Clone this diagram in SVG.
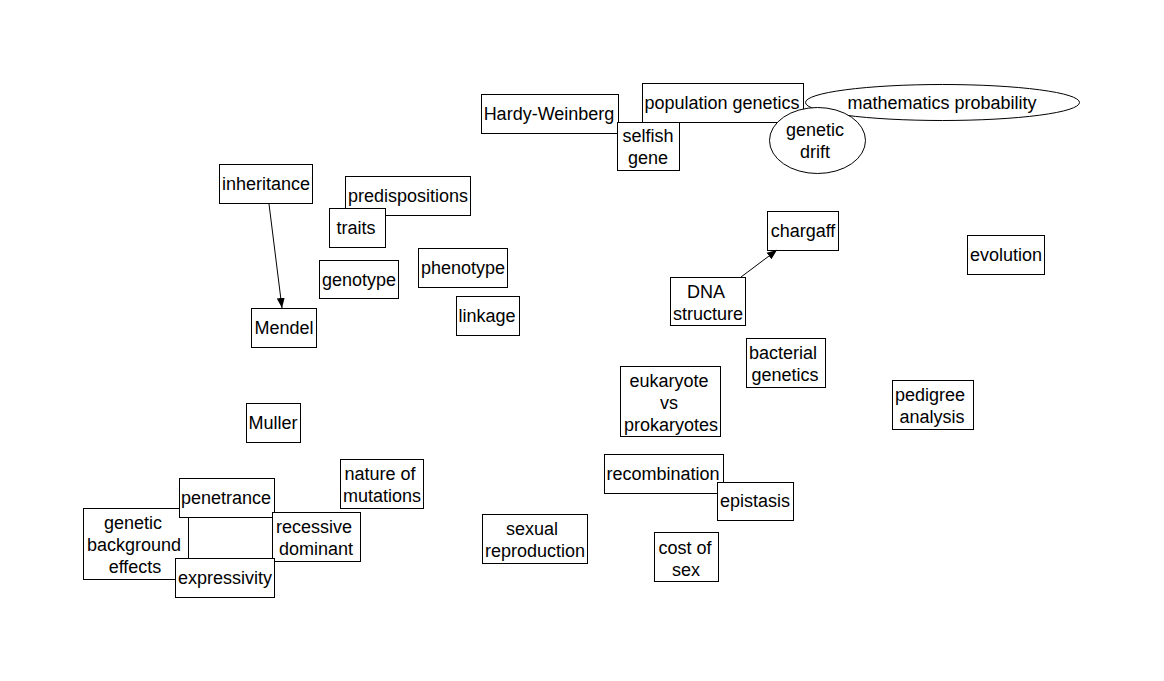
<svg xmlns="http://www.w3.org/2000/svg" width="1164" height="681" viewBox="0 0 1164 681">
  <style>
    .n rect, .n ellipse { fill: #fff; stroke: #000; stroke-width: 1; }
    .n text { font-family: "Liberation Sans", Arial, sans-serif; font-size: 18px; fill: #000; text-anchor: middle; dominant-baseline: central; }
    .e { stroke: #000; stroke-width: 1; fill: none; marker-end: url(#arrow); }
  </style>
  <defs>
    <marker id="arrow" viewBox="0 0 10 10" refX="10" refY="5" markerWidth="10" markerHeight="10" markerUnits="userSpaceOnUse" orient="auto">
      <path d="M0,1 L10,5 L0,9 Z" fill="#000"/>
    </marker>
  </defs>
  <rect width="1164" height="681" fill="#fff"/>

  <g id="hardy-weinberg" class="n"><rect x="481.5" y="94.5" width="137" height="39"/><text x="549" y="114">Hardy-Weinberg</text></g>
  <g id="population-genetics" class="n"><rect x="642.5" y="83.5" width="161" height="39"/><text x="722" y="103">population genetics</text></g>
  <g id="mathematics-probability" class="n"><ellipse cx="942.5" cy="102.5" rx="137" ry="18"/><text x="942" y="103">mathematics probability</text></g>
  <g id="selfish-gene" class="n"><rect x="617.5" y="122.5" width="62" height="48"/><text x="648" y="136">selfish</text><text x="648" y="158">gene</text></g>
  <g id="genetic-drift" class="n"><ellipse cx="817.5" cy="140.5" rx="48" ry="33"/><text x="815" y="130">genetic</text><text x="815" y="152">drift</text></g>

  <g id="inheritance" class="n"><rect x="219.5" y="164.5" width="93" height="39"/><text x="266" y="184">inheritance</text></g>
  <g id="predispositions" class="n"><rect x="345.5" y="176.5" width="125" height="39"/><text x="408" y="196">predispositions</text></g>
  <g id="traits" class="n"><rect x="329.5" y="208.5" width="56" height="39"/><text x="356" y="228">traits</text></g>
  <g id="genotype" class="n"><rect x="319.5" y="260.5" width="79" height="38"/><text x="359" y="280">genotype</text></g>
  <g id="phenotype" class="n"><rect x="418.5" y="248.5" width="89" height="39"/><text x="463" y="268">phenotype</text></g>
  <g id="linkage" class="n"><rect x="456.5" y="296.5" width="63" height="39"/><text x="487" y="316">linkage</text></g>
  <g id="mendel" class="n"><rect x="251.5" y="308.5" width="65" height="39"/><text x="284" y="328">Mendel</text></g>

  <g id="chargaff" class="n"><rect x="767.5" y="211.5" width="71" height="39"/><text x="803" y="231">chargaff</text></g>
  <g id="dna-structure" class="n"><rect x="670.5" y="277.5" width="75" height="48"/><text x="706" y="292">DNA</text><text x="708" y="314">structure</text></g>
  <g id="evolution" class="n"><rect x="967.5" y="235.5" width="77" height="39"/><text x="1006" y="255">evolution</text></g>
  <g id="bacterial-genetics" class="n"><rect x="746.5" y="338.5" width="79" height="49"/><text x="783" y="353">bacterial</text><text x="785" y="375">genetics</text></g>
  <g id="eukaryote-vs-prokaryotes" class="n"><rect x="620.5" y="366.5" width="100" height="70"/><text x="669" y="381">eukaryote</text><text x="669" y="403">vs</text><text x="671" y="425">prokaryotes</text></g>
  <g id="pedigree-analysis" class="n"><rect x="892.5" y="380.5" width="81" height="49"/><text x="930" y="395">pedigree</text><text x="932" y="417">analysis</text></g>
  <g id="recombination" class="n"><rect x="604.5" y="454.5" width="119" height="39"/><text x="663" y="474">recombination</text></g>
  <g id="epistasis" class="n"><rect x="717.5" y="482.5" width="76" height="38"/><text x="755" y="501">epistasis</text></g>
  <g id="sexual-reproduction" class="n"><rect x="482.5" y="514.5" width="105" height="49"/><text x="532" y="529">sexual</text><text x="535" y="551">reproduction</text></g>
  <g id="cost-of-sex" class="n"><rect x="654.5" y="532.5" width="64" height="49"/><text x="685" y="548">cost of</text><text x="686" y="570">sex</text></g>

  <g id="muller" class="n"><rect x="246.5" y="403.5" width="54" height="39"/><text x="273" y="423">Muller</text></g>
  <g id="nature-of-mutations" class="n"><rect x="340.5" y="459.5" width="83" height="49"/><text x="380" y="474">nature of</text><text x="382" y="496">mutations</text></g>
  <g id="genetic-background-effects" class="n"><rect x="83.5" y="508.5" width="105" height="71"/><text x="133" y="523">genetic</text><text x="134" y="545">background</text><text x="135" y="567">effects</text></g>
  <g id="penetrance" class="n"><rect x="179.5" y="478.5" width="95" height="39"/><text x="226" y="498">penetrance</text></g>
  <g id="recessive-dominant" class="n"><rect x="272.5" y="512.5" width="88" height="49"/><text x="314" y="527">recessive</text><text x="316" y="549">dominant</text></g>
  <g id="expressivity" class="n"><rect x="175.5" y="558.5" width="99" height="39"/><text x="225" y="578">expressivity</text></g>

  <g id="connectors">
    <line class="e" x1="269" y1="204" x2="282" y2="308"/>
    <line class="e" x1="741" y1="277" x2="777" y2="250"/>
  </g>
</svg>
